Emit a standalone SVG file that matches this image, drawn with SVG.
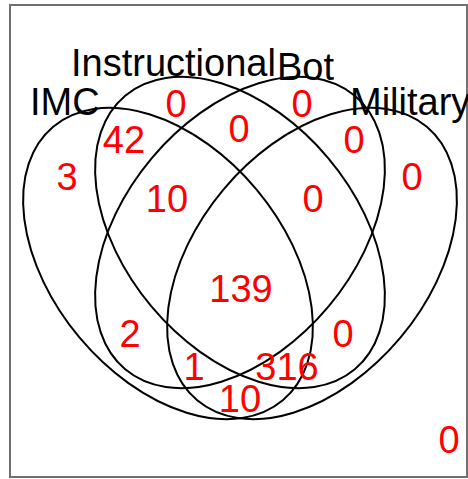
<svg xmlns="http://www.w3.org/2000/svg" width="468" height="479" viewBox="0 0 468 479">
<style>
.set{fill:none;stroke:#000;stroke-width:2}
.cat{font-family:"Liberation Sans",Arial,sans-serif;font-size:38px;fill:#000}
.num{font-family:"Liberation Sans",Arial,sans-serif;font-size:38px;fill:#ff0000;text-anchor:middle}
</style>
<rect x="0" y="0" width="468" height="479" fill="#fff"/>
<rect id="frame" x="10" y="5" width="457" height="472" fill="none" stroke="#707070" stroke-width="2"/>
<g id="IMC">
<ellipse class="set" cx="168" cy="263.5" rx="178.6" ry="115.4" transform="rotate(50 168 263.5)"/>
<text class="cat" x="30" y="115">IMC</text>
</g>
<g id="Instructional">
<ellipse class="set" cx="240" cy="232.5" rx="178.6" ry="115.4" transform="rotate(50 240 232.5)"/>
<text class="cat" x="71" y="76">Instructional</text>
</g>
<g id="Bot">
<ellipse class="set" cx="240" cy="232.5" rx="178.6" ry="115.4" transform="rotate(-50 240 232.5)"/>
<text class="cat" x="277" y="80">Bot</text>
</g>
<g id="Military">
<ellipse class="set" cx="312" cy="263.5" rx="178.6" ry="115.4" transform="rotate(-50 312 263.5)"/>
<text class="cat" x="350" y="115">Military</text>
</g>
<g id="counts">
<text class="num" x="67" y="190">3</text>
<text class="num" x="124" y="153">42</text>
<text class="num" x="176" y="117">0</text>
<text class="num" x="302" y="117">0</text>
<text class="num" x="239" y="142">0</text>
<text class="num" x="354" y="153">0</text>
<text class="num" x="412" y="190">0</text>
<text class="num" x="167" y="212">10</text>
<text class="num" x="313" y="212">0</text>
<text class="num" x="241" y="302">139</text>
<text class="num" x="130" y="347">2</text>
<text class="num" x="343" y="347">0</text>
<text class="num" x="194" y="380">1</text>
<text class="num" x="287" y="380">316</text>
<text class="num" x="240" y="412">10</text>
<text class="num" x="449" y="453">0</text>
</g>
</svg>
